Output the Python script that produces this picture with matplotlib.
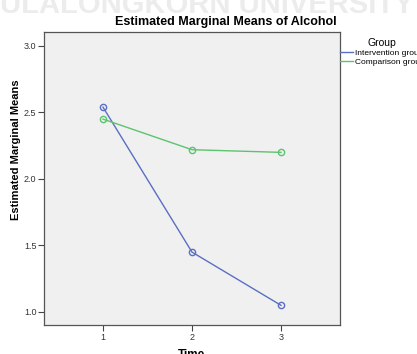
import matplotlib
matplotlib.use('Agg')
from matplotlib import pyplot as plt

plt.rcParams['font.family'] = ['Liberation Sans', 'DejaVu Sans']

time = [1, 2, 3]
intervention = [2.54, 1.45, 1.05]
comparison = [2.45, 2.22, 2.20]
groups = ['Intervention group', 'Comparison group']
colors = ['#5a6fc4', '#5cc46e']
yticks = [1.0, 1.5, 2.0, 2.5, 3.0]

fig = plt.figure(figsize=(4.17, 3.54), dpi=100)
ax = fig.add_axes([44/417, 1-325/354, 296/417, 293/354])
ax.set_facecolor('#f0f0f0')

for vals, c, g in zip([intervention, comparison], colors, groups):
    ax.plot(time, vals, color=c, lw=1, marker='o', ms=4.5, mfc='none',
            mec=c, mew=1, label=g)

ax.set_xlim(0.337, 3.663)
ax.set_ylim(0.902, 3.105)
ax.set_xticks(time)
ax.set_yticks(yticks)
ax.set_yticklabels(['%.1f' % v for v in yticks])
ax.tick_params(axis='both', direction='out', length=4, width=0.8, pad=1.5,
               colors='#444444', labelsize=6.5, labelcolor='#333333')
for s in ax.spines.values():
    s.set_color('#555555')
    s.set_linewidth(0.9)

# titles and labels
fig.text(226/417, 1-22/354, 'Estimated Marginal Means of Alcohol',
         ha='center', va='center', fontsize=9, fontweight='bold')
fig.text(16/417, 1-150/354, 'Estimated Marginal Means', rotation=90,
         ha='center', va='center', fontsize=8, fontweight='bold')
fig.text(192/417, 1-349/354, 'Time', ha='center', va='top',
         fontsize=8.5, fontweight='bold')

# watermark along the top edge
fig.text(414/417, 1-13/354, 'CHULALONGKORN UNIVERSITY', ha='right',
         va='baseline', fontsize=21, fontweight='bold', color='#ececec',
         zorder=0)

leg = ax.legend(loc='upper left', bbox_to_anchor=(340/417, 1-38/354),
                bbox_transform=fig.transFigure, frameon=False, title='Group',
                fontsize=6, title_fontsize=7.5, handlelength=1.6,
                handletextpad=0.2, labelspacing=0.15, borderaxespad=0,
                borderpad=0)
for h in leg.legend_handles:
    h.set_marker('')

plt.savefig('out.png', dpi=100)
